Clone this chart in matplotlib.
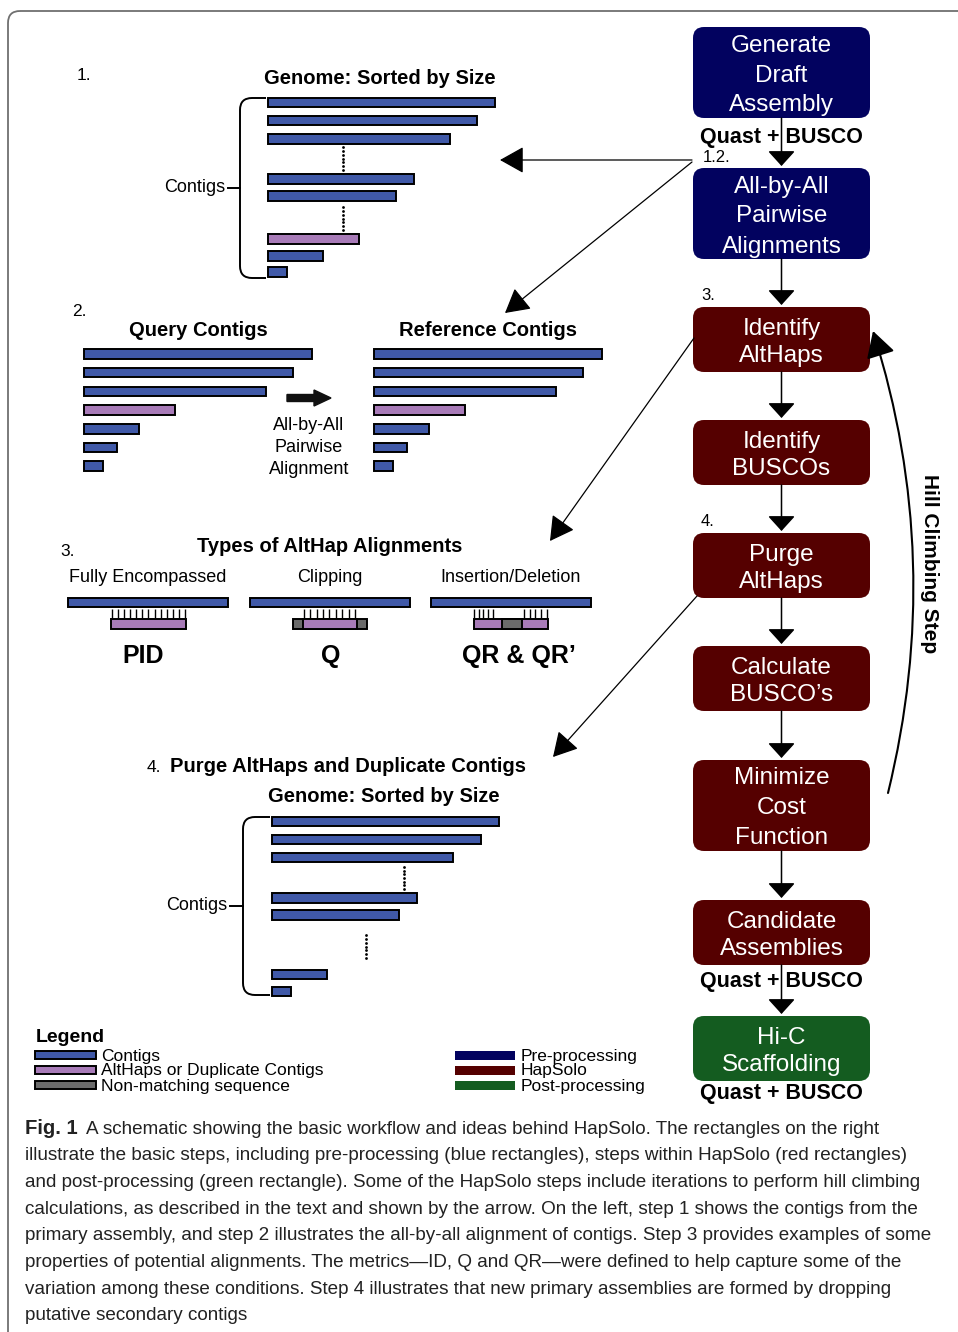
import numpy as np
import matplotlib.pyplot as plt
from matplotlib.patches import FancyBboxPatch, FancyArrow
from matplotlib.path import Path
from matplotlib.patches import PathPatch

plt.rcParams['font.family'] = ['Liberation Sans', 'DejaVu Sans']

# ---- data ----
genome_lengths = [227, 209, 182, 146, 128, 91, 55, 19]
genome_kinds = ['contig', 'contig', 'contig', 'contig', 'contig', 'althap', 'contig', 'contig']
pair_lengths = [228, 209, 182, 91, 55, 33, 19]
pair_kinds = ['contig', 'contig', 'contig', 'althap', 'contig', 'contig', 'contig']
purged_lengths = [227, 209, 181, 145, 127, 55, 19]

align_types = ['Fully Encompassed', 'Clipping', 'Insertion/Deletion']
align_metrics = ['PID', 'Q', 'QR & QR’']

flow_steps = [['Generate', 'Draft', 'Assembly'],
              ['All-by-All', 'Pairwise', 'Alignments'],
              ['Identify', 'AltHaps'],
              ['Identify', 'BUSCOs'],
              ['Purge', 'AltHaps'],
              ['Calculate', 'BUSCO’s'],
              ['Minimize', 'Cost', 'Function'],
              ['Candidate', 'Assemblies'],
              ['Hi-C', 'Scaffolding']]
flow_groups = ['pre', 'pre', 'hap', 'hap', 'hap', 'hap', 'hap', 'hap', 'post']

legend_left = ['Contigs', 'AltHaps or Duplicate Contigs', 'Non-matching sequence']
legend_right = ['Pre-processing', 'HapSolo', 'Post-processing']

caption_lines = [
    'A schematic showing the basic workflow and ideas behind HapSolo. The rectangles on the right',
    'illustrate the basic steps, including pre-processing (blue rectangles), steps within HapSolo (red rectangles)',
    'and post-processing (green rectangle). Some of the HapSolo steps include iterations to perform hill climbing',
    'calculations, as described in the text and shown by the arrow. On the left, step 1 shows the contigs from the',
    'primary assembly, and step 2 illustrates the all-by-all alignment of contigs. Step 3 provides examples of some',
    'properties of potential alignments. The metrics—ID, Q and QR—were defined to help capture some of the',
    'variation among these conditions. Step 4 illustrates that new primary assemblies are formed by dropping',
    'putative secondary contigs',
]

# colours
kind_col = {'contig': '#4059a8', 'althap': '#a87bb8', 'gap': '#6b6b6b'}
group_col = {'pre': '#02025f', 'hap': '#550000', 'post': '#145c20'}

fig = plt.figure(figsize=(9.58, 13.32), dpi=100)
ax = fig.add_axes([0, 0, 1, 1])
ax.set_xlim(0, 958)
ax.set_ylim(1332, 0)
ax.axis('off')

# frame
ax.add_patch(FancyBboxPatch((8, 11), 990, 1360, boxstyle='round,pad=0,rounding_size=12',
                            fc='none', ec='#707070', lw=1.3))

BAR_H = 9.5


def contig_bars(left, ys, lengths, kinds):
    cols = [kind_col[k] for k in kinds]
    ax.barh(ys, lengths, height=BAR_H, left=left, color=cols, edgecolor='black', lw=1.4, zorder=3)


def dots(x, y0, y1, n=7):
    yy = np.linspace(y0, y1, n)
    ax.plot(np.full(n, x), yy, 'o', color='black', ms=2.0, mew=0, zorder=3)


def bracket(xb, xr, top, bot, tick_x):
    r = 12
    verts = [(xr, top), (xb + r, top), (xb, top), (xb, top + r),
             (xb, bot - r), (xb, bot), (xb + r, bot), (xr, bot)]
    codes = [Path.MOVETO, Path.LINETO, Path.CURVE3, Path.CURVE3,
             Path.LINETO, Path.CURVE3, Path.CURVE3, Path.LINETO]
    ax.add_patch(PathPatch(Path(verts, codes), fc='none', ec='black', lw=1.4))
    mid = (top + bot) / 2
    ax.plot([tick_x, xb], [mid, mid], color='black', lw=1.4)


# ---- step 1 ----
ax.text(77, 76, '1.', fontsize=12.5, va='center')
ax.text(380, 78, 'Genome: Sorted by Size', fontsize=14.5, weight='bold', ha='center', va='center')
ys1 = [102.5, 120.5, 139, 179, 196, 239, 256, 272]
contig_bars(268, ys1, genome_lengths, genome_kinds)
dots(343, 147, 170)
dots(343, 207, 230)
bracket(240, 266, 98, 278, 228)
ax.text(225, 187, 'Contigs', fontsize=13, ha='right', va='center')

# ---- step 2 ----
ax.text(72, 311, '2.', fontsize=12.5, va='center')
ax.text(198, 331, 'Query Contigs', fontsize=14.5, weight='bold', ha='center', va='center')
ax.text(488, 331, 'Reference Contigs', fontsize=14.5, weight='bold', ha='center', va='center')
ys2 = [354 + 18.7 * i for i in range(len(pair_lengths))]
contig_bars(84, ys2, pair_lengths, pair_kinds)
contig_bars(374, ys2, pair_lengths, pair_kinds)
ax.add_patch(FancyArrow(287, 398, 44, 0, width=7, head_width=16, head_length=17,
                        length_includes_head=True, color='#111111'))
for i, s in enumerate(['All-by-All', 'Pairwise', 'Alignment']):
    ax.text(309, 425 + 22 * i, s, fontsize=13, ha='center', va='center')

# ---- step 3 ----
ax.text(60, 551, '3.', fontsize=12.5, va='center')
ax.text(330, 547, 'Types of AltHap Alignments', fontsize=14.5, weight='bold', ha='center', va='center')
panel_left = [68, 250, 431]
# query pieces (start, end, kind) relative to panel
pieces = [[(43, 118, 'althap')],
          [(43, 117, 'gap'), (53, 107, 'althap')],
          [(43, 117, 'althap'), (71, 91, 'gap')]]
tick_runs = [[(44, 117, 13)], [(54, 105, 9)], [(43, 62, 5), (93, 116, 5)]]
metric_shift = [-5, 1, 8]
for i, x0 in enumerate(panel_left):
    ax.text(x0 + 80, 577, align_types[i], fontsize=13, ha='center', va='center')
    ax.barh([602], [160], height=9, left=x0, color=kind_col['contig'], edgecolor='black', lw=1.4, zorder=3)
    for a, b, k in pieces[i]:
        ax.barh([624], [b - a], height=9.5, left=x0 + a, color=kind_col[k], edgecolor='black', lw=1.4, zorder=3)
    for a, b, n in tick_runs[i]:
        ax.vlines(np.linspace(x0 + a, x0 + b, n), 609, 617.5, color='black', lw=1)
    ax.text(x0 + 80 + metric_shift[i], 656, align_metrics[i], fontsize=18, weight='bold',
            ha='center', va='center')

# ---- step 4 ----
ax.text(147, 767, '4.', fontsize=12.5, va='center')
ax.text(170, 767, 'Purge AltHaps and Duplicate Contigs', fontsize=14.5, weight='bold', va='center')
ax.text(384, 796, 'Genome: Sorted by Size', fontsize=14.5, weight='bold', ha='center', va='center')
ys4 = [821.5, 839.5, 857.5, 898, 915, 974.5, 991.5]
contig_bars(272, ys4, purged_lengths, ['contig'] * len(purged_lengths))
dots(404, 867, 889)
dots(366, 935, 958)
bracket(243, 270, 817, 995, 230)
ax.text(227, 905, 'Contigs', fontsize=13, ha='right', va='center')

# ---- legend ----
ax.text(36, 1038, 'Legend', fontsize=14, weight='bold', va='center')
for i, (lab, k) in enumerate(zip(legend_left, ['contig', 'althap', 'gap'])):
    y = 1055 + 15 * i
    ax.barh([y], [61], height=8, left=35, color=kind_col[k], edgecolor='black', lw=1.4)
    ax.text(101, y + 1, lab, fontsize=12.5, va='center')
for i, (lab, g) in enumerate(zip(legend_right, ['pre', 'hap', 'post'])):
    y = 1055 + 15 * i
    ax.barh([y], [60], height=9, left=455, color=group_col[g], lw=0)
    ax.text(521, y + 1, lab, fontsize=12.5, va='center')

# ---- flowchart ----
box_x, box_w = 693, 177
box_tops = [27, 168, 307, 420, 533, 646, 760, 900, 1016]
box_bots = [118, 259, 372, 485, 598, 711, 851, 965, 1081]
cx = box_x + box_w / 2
for lines, g, t, b in zip(flow_steps, flow_groups, box_tops, box_bots):
    ax.add_patch(FancyBboxPatch((box_x, t), box_w, b - t, boxstyle='round,pad=0,rounding_size=11',
                                fc=group_col[g], ec='none', zorder=2))
    sp = 30 if len(lines) == 3 else 27.5
    mid = (t + b) / 2 + 3
    for j, s in enumerate(lines):
        ax.text(cx, mid + (j - (len(lines) - 1) / 2) * sp, s, fontsize=17.5, color='white',
                ha='center', va='center', zorder=4)

head = '-|>,head_length=0.55,head_width=0.5'
for b, t in zip(box_bots[:-1], box_tops[1:]):
    ax.annotate('', xy=(cx, t - 2), xytext=(cx, b),
                arrowprops=dict(arrowstyle=head, mutation_scale=17, color='black', lw=1.1,
                                shrinkA=0, shrinkB=0), zorder=5)

for y in [137, 982, 1093]:
    ax.text(cx, y, 'Quast + BUSCO', fontsize=15.5, weight='bold', ha='center', va='center', zorder=3)
ax.text(703, 157, '1.2.', fontsize=12, va='center')
ax.text(701, 296, '3.', fontsize=12, va='center')
ax.text(701, 521, '4.', fontsize=12, va='center')

# hill climbing loop
ax.annotate('', xy=(873, 331), xytext=(888, 793),
            arrowprops=dict(arrowstyle='-|>,head_length=0.8,head_width=0.45', mutation_scale=20,
                            connectionstyle='arc3,rad=0.14', color='black', lw=1.5,
                            shrinkA=0, shrinkB=0))
ax.text(930, 564, 'Hill Climbing Step', fontsize=15, weight='bold', rotation=-90,
        ha='center', va='center')

# pointers from flowchart to panels
big = '-|>,head_length=0.75,head_width=0.42'
for src, dst in [((692, 160), (500, 160)), ((692, 162), (505, 313)),
                 ((694, 338), (550, 541)), ((697, 596), (553, 757))]:
    ax.annotate('', xy=dst, xytext=src,
                arrowprops=dict(arrowstyle=big, mutation_scale=20, color='black', lw=0.9,
                                shrinkA=0, shrinkB=0))

# ---- caption ----
# no condensed face installed: pick the size that makes line 2 span the reference width
renderer = fig.canvas.get_renderer()
probe = ax.text(25, 0, caption_lines[1], fontsize=14)
cap_size = 14 * 895 / probe.get_window_extent(renderer).width
probe.remove()

ax.text(25, 1129, 'Fig. 1', fontsize=cap_size + 1, weight='bold', va='center', color='#222222')
for i, s in enumerate(caption_lines):
    ax.text(86 if i == 0 else 25, 1129 + 26.7 * i, s, fontsize=cap_size, va='center',
            color='#222222')

fig.savefig('out.png', dpi=100)
